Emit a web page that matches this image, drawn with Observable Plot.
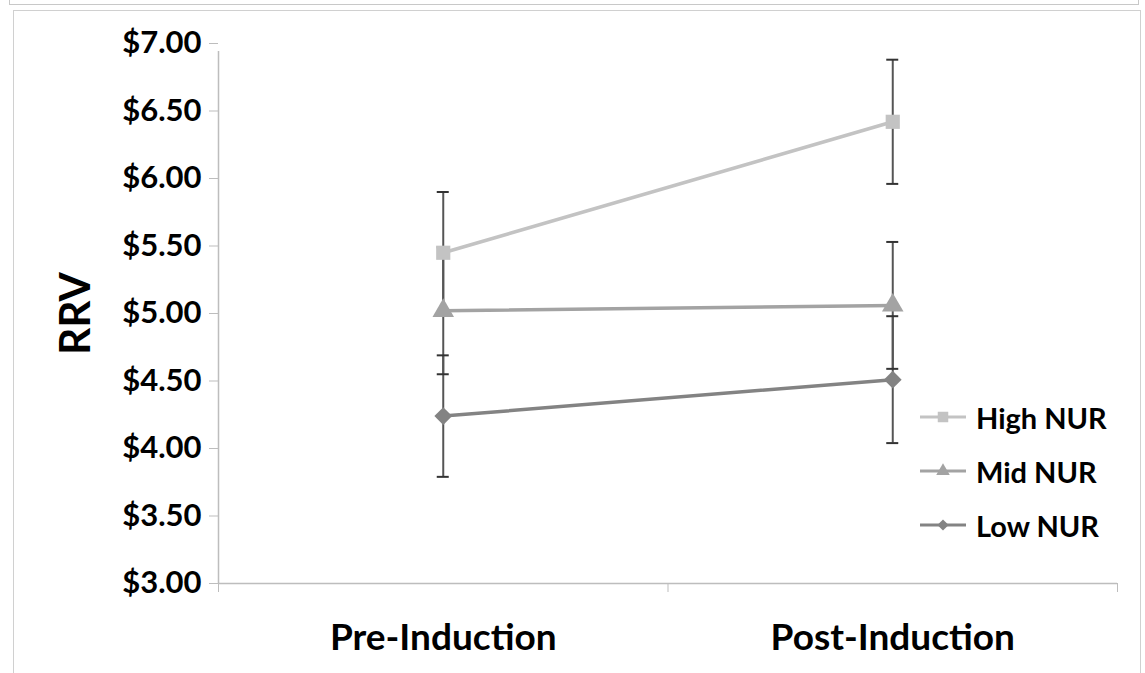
<!DOCTYPE html>
<html>
<head>
<meta charset="utf-8">
<script src="https://cdn.jsdelivr.net/npm/d3@7"></script>
<script src="https://cdn.jsdelivr.net/npm/@observablehq/plot@0.6"></script>
<style>
  html, body { margin: 0; padding: 0; background: #fff; }
  body { width: 1145px; height: 673px; position: relative; overflow: hidden; font-family: Lato, "Open Sans", sans-serif; }
  #topbox { position: absolute; left: 9px; top: -10px; width: 1128px; height: 13px; border: 1px solid #c8c8c8; }
  #frame { position: absolute; left: 13px; top: 10px; width: 1126px; height: 680px; border: 1px solid #d0d0d0; }
  #chart { position: absolute; left: 0; top: 0; }
  #legend { position: absolute; left: 918px; top: 390px; font-weight: 700; font-size: 29px; color: #000; }
  #legend .item { display: flex; align-items: center; height: 54px; }
  #legend svg { margin-right: 8px; }
</style>
</head>
<body>
<div id="topbox"></div>
<div id="frame"></div>
<div id="chart"></div>
<div id="legend"></div>
<script>
const categories = ["Pre-Induction", "Post-Induction"];
const seriesNames = ["High NUR", "Mid NUR", "Low NUR"];
const seriesColors = ["#c3c3c3", "#a3a3a3", "#838383"];
const seriesSymbols = ["square", "triangle", "diamond2"];
const highValues = [5.45, 6.42];
const highErr = [0.45, 0.46];
const midValues = [5.02, 5.06];
const midErr = [0.47, 0.47];
const lowValues = [4.24, 4.51];
const lowErr = [0.45, 0.47];
const yTicks = [3.0, 3.5, 4.0, 4.5, 5.0, 5.5, 6.0, 6.5, 7.0];

const seriesValues = [highValues, midValues, lowValues];
const seriesErr = [highErr, midErr, lowErr];
const data = [];
seriesNames.forEach((s, si) => {
  categories.forEach((c, ci) => {
    data.push({series: s, cat: c, xi: ci + 0.5, v: seriesValues[si][ci], e: seriesErr[si][ci]});
  });
});
const boundaries = d3.range(categories.length + 1);

const color = {domain: seriesNames, range: seriesColors};
const font = "Lato, 'Open Sans', sans-serif";

const plot = Plot.plot({
  width: 1145,
  height: 673,
  marginLeft: 218,
  marginRight: 28,
  marginTop: 43,
  marginBottom: 90,
  style: {fontFamily: font, background: "transparent", overflow: "visible"},
  x: {domain: [0, categories.length], axis: null},
  y: {domain: [3, 7], axis: null},
  color: color,
  symbol: {domain: seriesNames, range: seriesSymbols},
  marks: [
    // y axis line
    Plot.ruleX([0], {y1: 3, y2: 7, stroke: "#bdbdbd", strokeWidth: 1.5, insetBottom: -8}),
    Plot.axisY({ticks: yTicks, tickSize: 9, tickPadding: 8, label: null, tickFormat: d => "$" + d.toFixed(2),
      stroke: "#bdbdbd", fill: "#000", fontSize: 31, fontWeight: 700}),
    // x axis line
    Plot.ruleY([3], {stroke: "#bdbdbd", strokeWidth: 1.5}),
    Plot.axisX({ticks: boundaries, tickSize: 9, label: null, tickFormat: () => "", stroke: "#bdbdbd"}),
    Plot.axisX({ticks: categories.map((c, i) => i + 0.5), tickSize: 0, tickPadding: 40, label: null,
      tickFormat: d => categories[Math.floor(d)], fill: "#000", fontSize: 37, fontWeight: 700}),
    // y label
    Plot.text(["RRV"], {frameAnchor: "left", textAnchor: "middle", dx: -142, rotate: -90, fontSize: 42, fontWeight: 700, fill: "#000"}),
    // series lines
    Plot.line(data, {x: "xi", y: "v", z: "series", stroke: "series", strokeWidth: 3.5}),
    // error bars
    Plot.ruleX(data, {x: "xi", y1: d => d.v - d.e, y2: d => d.v + d.e, stroke: "#555", strokeWidth: 2}),
    Plot.ruleY(data, {y: d => d.v + d.e, x1: "xi", x2: "xi", insetLeft: -6, insetRight: -6, stroke: "#333", strokeWidth: 2}),
    Plot.ruleY(data, {y: d => d.v - d.e, x1: "xi", x2: "xi", insetLeft: -6, insetRight: -6, stroke: "#333", strokeWidth: 2}),
    // markers
    Plot.dot(data, {x: "xi", y: "v", fill: "series", symbol: "series", r: 8, stroke: "none"})
  ]
});
document.getElementById("chart").appendChild(plot);

// legend
const legend = d3.select("#legend");
seriesNames.forEach((s, i) => {
  const item = legend.append("div").attr("class", "item");
  const svg = item.append("svg").attr("width", 50).attr("height", 20);
  svg.append("line").attr("x1", 2).attr("x2", 48).attr("y1", 10).attr("y2", 10)
    .attr("stroke", seriesColors[i]).attr("stroke-width", 3);
  const sym = d3.symbol().type({square: d3.symbolSquare, triangle: d3.symbolTriangle, diamond2: d3.symbolDiamond2}[seriesSymbols[i]]).size(i === 0 ? 110 : 80);
  svg.append("path").attr("d", sym()).attr("transform", "translate(25,10)").attr("fill", seriesColors[i]);
  item.append("span").text(s);
});
</script>
</body>
</html>
